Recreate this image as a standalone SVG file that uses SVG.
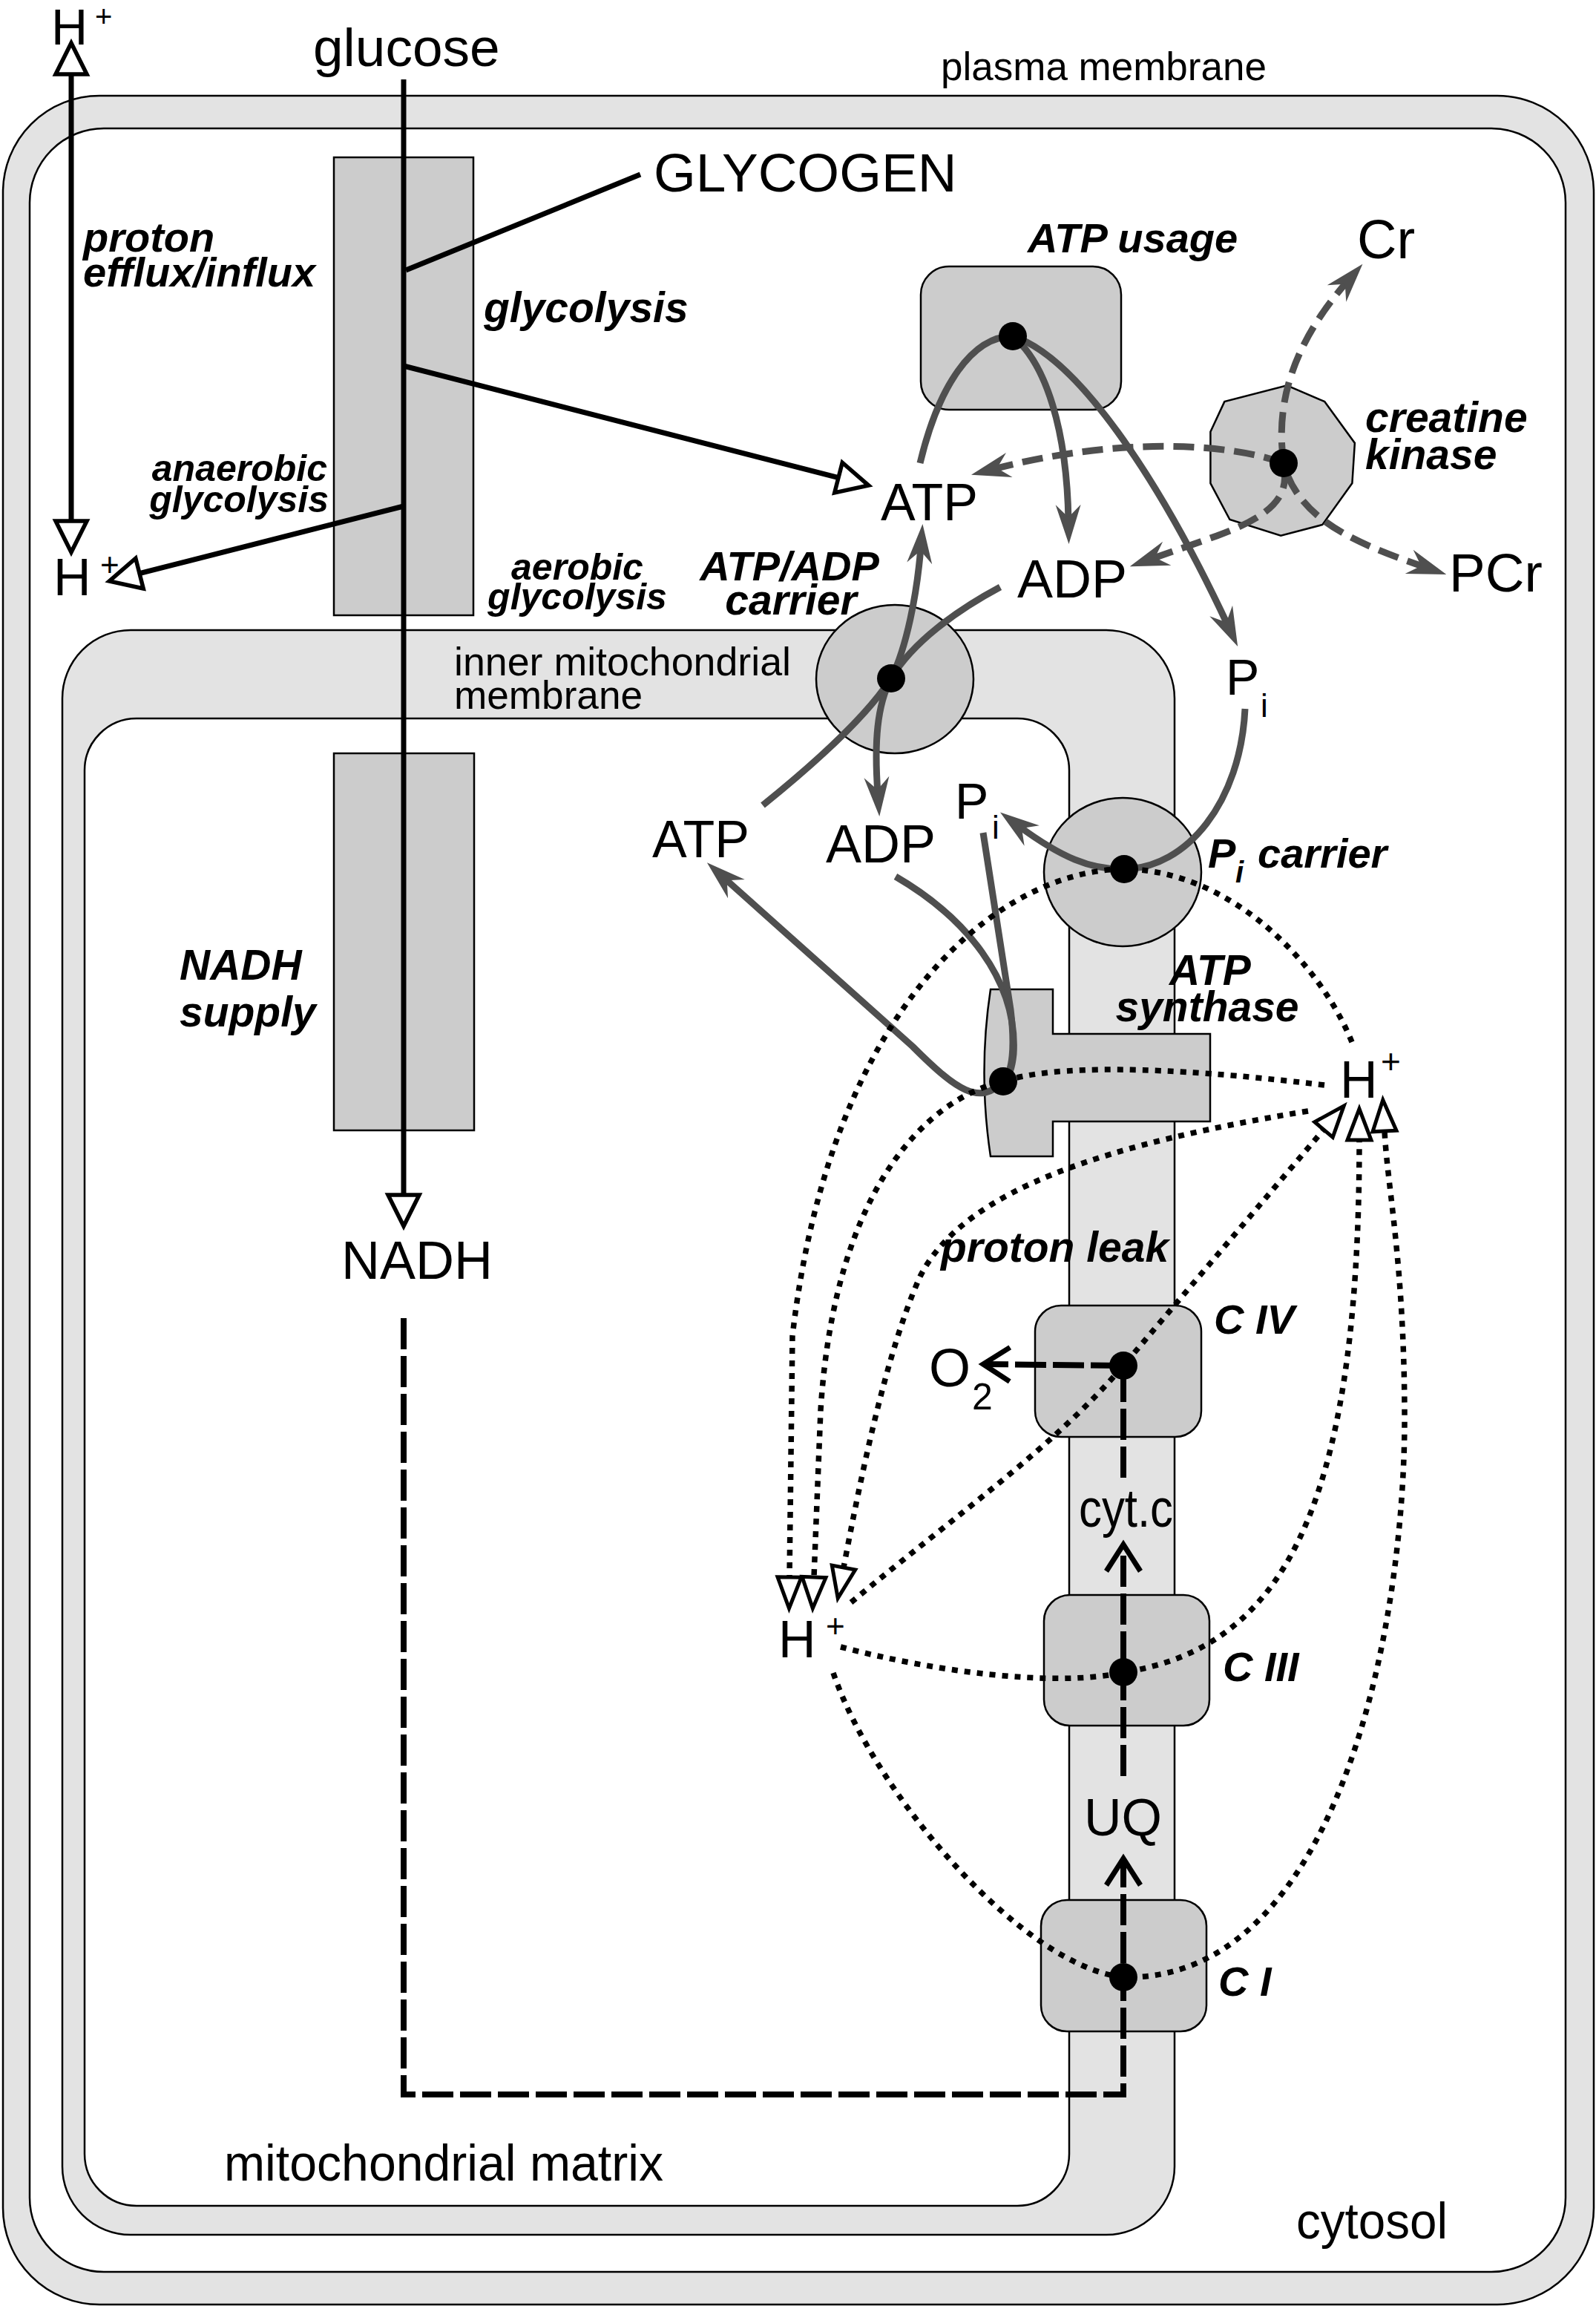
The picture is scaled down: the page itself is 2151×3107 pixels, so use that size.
<svg xmlns="http://www.w3.org/2000/svg" width="2151" height="3107" viewBox="0 0 2151 3107">
<style>
.t{font-family:"Liberation Sans",Arial,sans-serif;fill:#000}
.b{font-family:"Liberation Sans",Arial,sans-serif;font-weight:bold;font-style:italic;fill:#000}
.mem{fill:#e3e3e3;stroke:#000;stroke-width:2.5}
.in{fill:#fff;stroke:#000;stroke-width:2.5}
.box{fill:#cccccc;stroke:#000;stroke-width:2.5}
.k{fill:none;stroke:#000;stroke-width:7}
.e{fill:none;stroke:#000;stroke-width:8;stroke-dasharray:42 9}
.g{fill:none;stroke:#4f4f4f;stroke-width:9}
.gd{fill:none;stroke:#4f4f4f;stroke-width:9;stroke-dasharray:28 13}
.d{fill:none;stroke:#000;stroke-width:7.5;stroke-dasharray:8 9}
.dot{fill:#000}
</style>
<defs>
<marker id="oa" viewBox="-6 -28 60 56" markerWidth="60" markerHeight="56" markerUnits="userSpaceOnUse" refX="0" refY="0" orient="auto"><path d="M0,-21 L42,0 L0,21 Z" fill="#fff" stroke="#000" stroke-width="5.5"/></marker>
<marker id="os" viewBox="-6 -22 56 44" markerWidth="56" markerHeight="44" markerUnits="userSpaceOnUse" refX="0" refY="0" orient="auto"><path d="M0,-16 L42,0 L0,16 Z" fill="#fff" stroke="#000" stroke-width="5"/></marker>
<marker id="barb" viewBox="-28 -22 64 44" markerWidth="64" markerHeight="44" markerUnits="userSpaceOnUse" refX="0" refY="0" orient="auto"><path d="M31,0 L-22,-17 L-5,0 L-22,17 Z" fill="#4f4f4f"/></marker>
<marker id="chev" viewBox="-42 -30 52 60" markerWidth="52" markerHeight="60" markerUnits="userSpaceOnUse" refX="0" refY="0" orient="auto"><path d="M-36,-23 L0,0 L-36,23" fill="none" stroke="#000" stroke-width="7"/></marker>
</defs>
<rect width="2151" height="3107" fill="#fff"/>

<g id="plasma-membrane">
<rect class="mem" x="4" y="129" width="2144" height="2976" rx="130"/>
<rect class="in" x="40" y="173" width="2070" height="2888" rx="100"/>
<text class="t" x="1268" y="108" font-size="53">plasma membrane</text>
<text class="t" x="1747" y="3016" font-size="68" textLength="204" lengthAdjust="spacingAndGlyphs">cytosol</text>
</g>

<g id="inner-mitochondrial-membrane">
<rect class="mem" x="84" y="849" width="1499" height="2162" rx="92"/>
<rect class="in" x="114" y="968" width="1327" height="2004" rx="70"/>
<text class="t" x="612" y="910" font-size="54" textLength="454" lengthAdjust="spacingAndGlyphs">inner mitochondrial</text>
<text class="t" x="612" y="955" font-size="54" textLength="254" lengthAdjust="spacingAndGlyphs">membrane</text>
<text class="t" x="302" y="2938" font-size="68" textLength="592" lengthAdjust="spacingAndGlyphs">mitochondrial matrix</text>
</g>

<g id="glycolysis">
<rect class="box" x="450" y="212" width="188" height="617"/>
<text class="b" x="652" y="434" font-size="57">glycolysis</text>
<text class="b" x="441" y="648" font-size="50" text-anchor="end">anaerobic</text>
<text class="b" x="443" y="690" font-size="50" text-anchor="end">glycolysis</text>
<text class="b" x="778" y="781" font-size="50" text-anchor="middle">aerobic</text>
<text class="b" x="778" y="821" font-size="50" text-anchor="middle">glycolysis</text>
</g>

<g id="nadh-supply">
<rect class="box" x="450" y="1015" width="189" height="508"/>
<text class="b" x="242" y="1320" font-size="57">NADH</text>
<text class="b" x="242" y="1383" font-size="57">supply</text>
</g>

<g id="atp-usage">
<rect class="box" x="1241" y="359" width="270" height="193" rx="38"/>
<text class="b" x="1385" y="340" font-size="56">ATP usage</text>
</g>

<g id="creatine-kinase">
<polygon class="box" points="1734.6,519.4 1785.2,541.1 1825.9,596.9 1822.4,651.1 1782.3,707 1726.2,721.6 1657.4,700 1631.4,651.1 1631.4,581.8 1650.3,541.1"/>
<text class="b" x="1840" y="582" font-size="57">creatine</text>
<text class="b" x="1840" y="632" font-size="57">kinase</text>
</g>

<g id="atp-adp-carrier">
<ellipse class="box" cx="1206" cy="915" rx="106" ry="100"/>
<text class="b" x="1064" y="782" font-size="56" text-anchor="middle">ATP/ADP</text>
<text class="b" x="1066" y="828" font-size="57" text-anchor="middle">carrier</text>
</g>

<g id="pi-carrier">
<ellipse class="box" cx="1513" cy="1175" rx="106" ry="100"/>
<text class="b" x="1628" y="1169" font-size="56">P</text>
<text class="b" x="1665" y="1189" font-size="40">i</text>
<text class="b" x="1695" y="1169" font-size="56">carrier</text>
</g>

<g id="atp-synthase">
<path class="box" d="M1335,1333 L1419,1333 L1419,1393 L1631,1393 L1631,1511 L1419,1511 L1419,1558 L1335,1558 Q1318,1445 1335,1333 Z"/>
<text class="b" x="1631" y="1327" font-size="57" text-anchor="middle">ATP</text>
<text class="b" x="1627" y="1376" font-size="57" text-anchor="middle">synthase</text>
</g>

<g id="complex-iv">
<rect class="box" x="1395" y="1759" width="224" height="177" rx="35"/>
<text class="b" x="1636" y="1797" font-size="56">C IV</text>
</g>
<g id="complex-iii">
<rect class="box" x="1407" y="2149" width="223" height="176" rx="35"/>
<text class="b" x="1648" y="2265" font-size="56">C III</text>
</g>
<g id="complex-i">
<rect class="box" x="1403" y="2560" width="223" height="177" rx="35"/>
<text class="b" x="1642" y="2689" font-size="56">C I</text>
</g>

<g id="labels">
<g id="h-out-top"><text class="t" x="69" y="60" font-size="68">H</text><text class="t" x="128" y="36" font-size="40">+</text></g>
<g id="proton-efflux"><text class="b" x="112" y="339" font-size="56">proton</text><text class="b" x="112" y="386" font-size="56">efflux/influx</text></g>
<g id="h-in-left"><text class="t" x="72" y="802" font-size="70">H</text><text class="t" x="135" y="776" font-size="44">+</text></g>
<g id="glucose"><text class="t" x="422" y="89" font-size="73">glucose</text></g>
<g id="glycogen"><text class="t" x="881" y="258" font-size="73">GLYCOGEN</text></g>
<g id="cr"><text class="t" x="1829" y="348" font-size="74">Cr</text></g>
<g id="atp-cyto"><text class="t" x="1187" y="701" font-size="70">ATP</text></g>
<g id="adp-cyto"><text class="t" x="1371" y="805" font-size="72">ADP</text></g>
<g id="pcr"><text class="t" x="1953" y="797" font-size="73">PCr</text></g>
<g id="pi-cyto"><text class="t" x="1652" y="936" font-size="68">P</text><text class="t" x="1699" y="966" font-size="44">i</text></g>
<g id="atp-matrix"><text class="t" x="879" y="1155" font-size="70">ATP</text></g>
<g id="adp-matrix"><text class="t" x="1113" y="1162" font-size="72">ADP</text></g>
<g id="pi-matrix"><text class="t" x="1287" y="1103" font-size="68">P</text><text class="t" x="1337" y="1130" font-size="44">i</text></g>
<g id="h-cyto"><text class="t" x="1806" y="1479" font-size="70">H</text><text class="t" x="1861" y="1446" font-size="46">+</text></g>
<g id="proton-leak"><text class="b" x="1268" y="1700" font-size="57">proton leak</text></g>
<g id="nadh"><text class="t" x="460" y="1723" font-size="72">NADH</text></g>
<g id="o2"><text class="t" x="1252" y="1868" font-size="72">O</text><text class="t" x="1310" y="1899" font-size="50">2</text></g>
<g id="cytc"><text class="t" x="1454" y="2057" font-size="72" textLength="127" lengthAdjust="spacingAndGlyphs">cyt.c</text></g>
<g id="h-matrix"><text class="t" x="1049" y="2233" font-size="70">H</text><text class="t" x="1113" y="2206" font-size="44">+</text></g>
<g id="uq"><text class="t" x="1461" y="2473" font-size="70">UQ</text></g>
</g>

<g id="connectors">
<!-- black solid -->
<path class="k" d="M96,400 L96,702" marker-end="url(#oa)"/>
<path class="k" d="M96,400 L96,100" marker-end="url(#oa)"/>
<path class="k" d="M544,107 L544,1610" marker-end="url(#oa)"/>
<path class="k" d="M547,364 L863,235"/>
<path class="k" d="M544,493 L1130,643.6" marker-end="url(#oa)"/>
<path class="k" d="M544,682 L188,772.6" marker-end="url(#oa)"/>

<!-- electron transport dashed -->
<path class="e" d="M544,1776 L544,2822 L1514,2822 L1514,2504" marker-end="url(#chev)"/>
<path class="e" d="M1514,2393 L1514,2081" marker-end="url(#chev)"/>
<path class="e" d="M1514,1991 L1514,1840 L1325,1838" marker-end="url(#chev)"/>

<!-- gray solid -->
<path class="g" d="M1240,624 C1265,520 1310,453 1365,453"/>
<path class="g" d="M1365,453 C1410,490 1438,580 1440,702" marker-end="url(#barb)"/>
<path class="g" d="M1365,453 C1450,480 1560,640 1655,843" marker-end="url(#barb)"/>
<path class="g" d="M1028,1085 C1090,1035 1165,970 1201,914 C1222,872 1236,800 1241,737" marker-end="url(#barb)"/>
<path class="g" d="M1348,791 C1290,822 1230,865 1201,914 C1182,950 1178,1000 1183,1069" marker-end="url(#barb)"/>
<path class="g" d="M1352,1457 C1320,1490 1290,1470 1230,1410 L976,1183" marker-end="url(#barb)"/>
<path class="g" d="M1207,1181 C1300,1235 1372,1320 1366,1420 C1364,1440 1360,1450 1352,1457"/>
<path class="g" d="M1325,1122 L1362,1360 C1368,1410 1365,1445 1352,1457"/>
<path class="g" d="M1678,955 C1672,1080 1600,1170 1515,1171 C1470,1172 1430,1155 1373,1113" marker-end="url(#barb)"/>

<!-- gray dashed (creatine kinase) -->
<path class="gd" d="M1730,624 C1718,540 1745,460 1816,379" marker-end="url(#barb)"/>
<path class="gd" d="M1730,624 C1650,595 1500,590 1339,632" marker-end="url(#barb)"/>
<path class="gd" d="M1730,630 C1740,675 1700,700 1640,722 L1552,753" marker-end="url(#barb)"/>
<path class="gd" d="M1735,640 C1760,700 1820,730 1920,764" marker-end="url(#barb)"/>

<!-- black dotted proton flows -->
<path class="d" d="M1822,1404 C1780,1300 1660,1172 1515,1171 C1350,1172 1120,1350 1068,1800 L1064,2125" marker-end="url(#os)"/>
<path class="d" d="M1785,1462 C1560,1435 1420,1435 1352,1457 C1250,1480 1125,1600 1106,1900 L1097,2125" marker-end="url(#os)"/>
<path class="d" d="M1763,1497 C1500,1540 1300,1600 1240,1720 C1195,1820 1160,1990 1137,2112" marker-end="url(#os)"/>
<path class="d" d="M1147,2159 C1290,2040 1420,1950 1514,1840 L1784,1522" marker-end="url(#os)"/>
<path class="d" d="M1133,2219 C1250,2250 1420,2275 1516,2253 C1720,2220 1832,2050 1832,1536" marker-end="url(#os)"/>
<path class="d" d="M1123,2254 C1180,2420 1380,2650 1514,2664 C1800,2670 1895,2200 1893,1900 C1892,1700 1870,1600 1866,1524" marker-end="url(#os)"/>
</g>

<g id="reaction-dots">
<circle class="dot" cx="1365" cy="453" r="19"/>
<circle class="dot" cx="1730" cy="624" r="19"/>
<circle class="dot" cx="1201" cy="914" r="19"/>
<circle class="dot" cx="1515" cy="1171" r="19"/>
<circle class="dot" cx="1352" cy="1457" r="19"/>
<circle class="dot" cx="1514" cy="1840" r="19"/>
<circle class="dot" cx="1514" cy="2253" r="19"/>
<circle class="dot" cx="1514" cy="2664" r="19"/>
</g>
</svg>
